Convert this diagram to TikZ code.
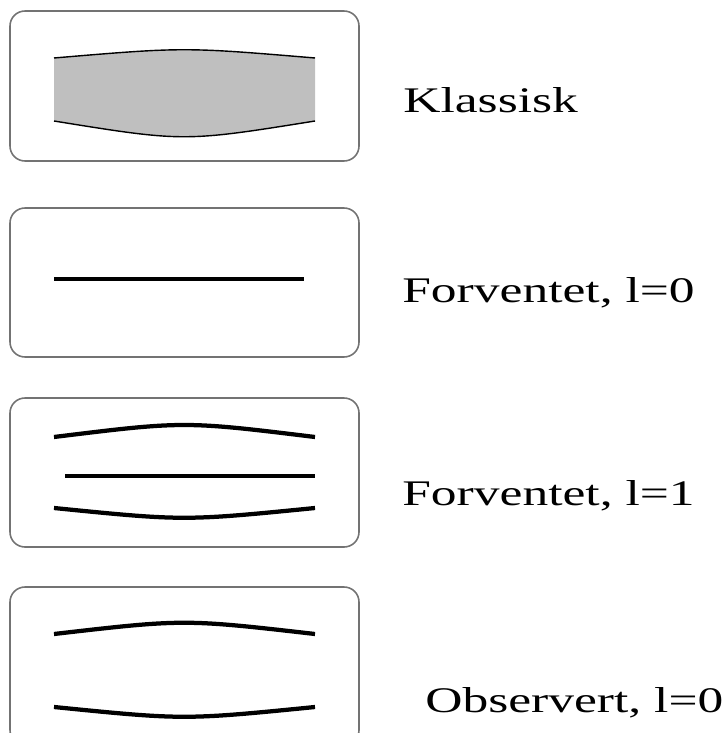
\documentclass[tikz,border=0pt]{standalone}
\usepackage{fontspec}
\setmainfont[FakeStretch=1.43]{Liberation Serif}
\usepackage{tikz}
\usepackage{xcolor}

\begin{document}
\begin{tikzpicture}[x=0.02cm,y=-0.02cm,
  panel/.style={draw=black!55, line width=0.9pt, rounded corners=0.3cm},
  band/.style={line width=0.085cm},
  lbl/.style={anchor=base west, inner sep=0pt, font=\fontsize{20.5}{24}\selectfont}]
\useasboundingbox (0,0) rectangle (727,733);
\clip (0,0) rectangle (727,733);
%%%PANELS
\draw[panel] (10,11) rectangle (359,161);
\draw[panel] (10,208) rectangle (359,357);
\draw[panel] (10,398) rectangle (359,547);
\draw[panel] (10,587) rectangle (359,745);
%%%CLASSICAL
\fill[black!25] (54,58) .. controls (184,47) .. (315,58) -- (315,121)
  .. controls (184,142) .. (54,121) -- cycle;
\draw[line width=0.8pt] (54,58) .. controls (184,47) .. (315,58);
\draw[line width=0.8pt] (54,121) .. controls (184,142) .. (315,121);
%%%EXPECTED, l=0
\draw[band] (54,279) -- (304,279);
%%%EXPECTED, l=1
\draw[band] (54,437) .. controls (184,421) .. (315,437);
\draw[band] (65,476) -- (315,476);
\draw[band] (54,508) .. controls (184,521) .. (315,508);
%%%OBSERVED
\draw[band] (54,634) .. controls (184,619) .. (315,634);
\draw[band] (54,707) .. controls (184,720) .. (315,707);
%%%LABELS
\node[lbl] (klassisk) at (403,113) {Klassisk};
\node[lbl] (forv0) at (402,302) {Forventet, l=0};
\node[lbl] (forv1) at (402,505) {Forventet, l=1};
\node[lbl] (obs0) at (425,712) {Observert, l=0};
\end{tikzpicture}
\end{document}
